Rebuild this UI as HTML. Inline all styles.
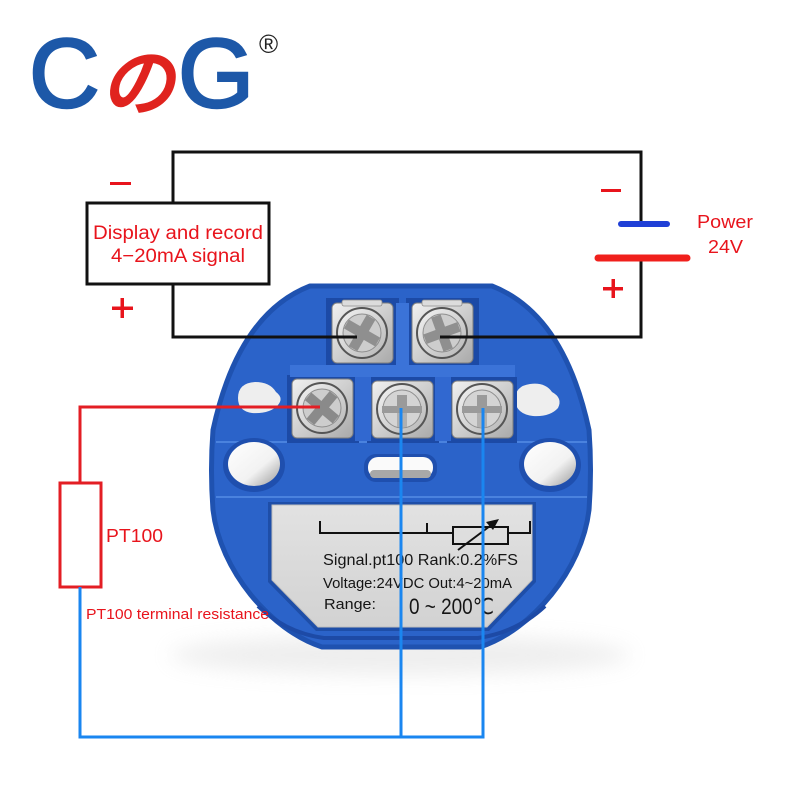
<!DOCTYPE html>
<html><head><meta charset="utf-8"><style>
html,body{margin:0;padding:0;background:#fff;}
svg{display:block;}
</style></head><body>
<svg width="800" height="800" viewBox="0 0 800 800" xmlns="http://www.w3.org/2000/svg">
<defs>
<linearGradient id="silver" x1="0" y1="0" x2="1" y2="1">
<stop offset="0" stop-color="#f0f0f0"/><stop offset="0.5" stop-color="#cfcfcf"/><stop offset="1" stop-color="#a9a9a9"/>
</linearGradient>
<linearGradient id="head" x1="0" y1="0" x2="1" y2="1">
<stop offset="0" stop-color="#f4f4f4"/><stop offset="1" stop-color="#b5b5b5"/>
</linearGradient>
<linearGradient id="plate" x1="0" y1="0" x2="0" y2="1">
<stop offset="0" stop-color="#e2e2e2"/><stop offset="1" stop-color="#d2d2d2"/>
</linearGradient>
<linearGradient id="hole" x1="0" y1="0" x2="1" y2="1">
<stop offset="0" stop-color="#ffffff"/><stop offset="0.6" stop-color="#f2f2f2"/><stop offset="1" stop-color="#9a9a9a"/>
</linearGradient>
<filter id="blur" x="-50%" y="-50%" width="200%" height="200%"><feGaussianBlur stdDeviation="10"/></filter>
</defs>

<rect width="800" height="800" fill="#fff"/>

<!-- Logo -->
<text x="29" y="107" font-family="Liberation Sans, sans-serif" font-size="98" fill="#1d58a8" stroke="#1d58a8" stroke-width="2.5">C</text>
<text x="104" y="109" font-family="Noto Sans CJK JP, sans-serif" font-size="74" fill="#e0231e" stroke="#e0231e" stroke-width="3" transform="skewX(-12) translate(20,0)">の</text>
<text x="178" y="107" font-family="Liberation Sans, sans-serif" font-size="98" fill="#1d58a8" stroke="#1d58a8" stroke-width="2.5">G</text>
<text x="259" y="53" font-family="Liberation Sans, sans-serif" font-size="26" fill="#222">®</text>

<!-- shadow -->
<ellipse cx="400" cy="655" rx="230" ry="20" fill="#c8c8c8" opacity="0.3" filter="url(#blur)"/>

<!-- Device body -->
<path d="M310,286 L492,286 Q564,314 589,430 Q592,470 589,510 C582,570 532,630 480,647 L322,647 C270,630 220,570 213,510 Q210,470 213,430 Q238,314 310,286 Z" fill="#2b63c9" stroke="#1f52b0" stroke-width="5" stroke-linejoin="round"/>
<!-- section edge lines -->
<line x1="216" y1="442" x2="587" y2="442" stroke="#4a82de" stroke-width="2"/>
<line x1="216" y1="497" x2="587" y2="497" stroke="#4a82de" stroke-width="2"/>
<path d="M258,606 C275,622 295,634 324,638 L478,638 C506,634 528,622 545,606" fill="none" stroke="#1d4aa6" stroke-width="4"/>

<!-- notches -->
<path d="M238,398 Q238,383 255,382 Q270,382 276,392 Q284,398 278,405 Q270,414 252,413 Q238,411 238,398 Z" fill="#eeeeee"/>
<path d="M515,400 Q515,386 530,384 Q545,382 552,392 Q563,398 558,408 Q550,417 533,416 Q516,414 515,400 Z" fill="#eeeeee"/>

<!-- holes -->
<ellipse cx="254" cy="465" rx="31" ry="27" fill="#1f4fae"/>
<ellipse cx="254" cy="464" rx="26" ry="22" fill="url(#hole)"/>
<ellipse cx="550" cy="465" rx="31" ry="27" fill="#1f4fae"/>
<ellipse cx="550" cy="464" rx="26" ry="22" fill="url(#hole)"/>
<!-- slot -->
<rect x="364" y="454" width="73" height="28" rx="12" fill="#1f4fae"/>
<rect x="368" y="457" width="65" height="21" rx="10" fill="#fafafa"/>
<rect x="370" y="470" width="61" height="8" rx="4" fill="#a8a8a8"/>

<!-- terminal recesses -->
<rect x="326" y="298" width="73" height="69" fill="#1c4aa6"/>
<rect x="406" y="298" width="73" height="69" fill="#1c4aa6"/>
<rect x="287" y="375" width="72" height="68" fill="#1c4aa6"/>
<rect x="367" y="377" width="72" height="66" fill="#1c4aa6"/>
<rect x="447" y="377" width="70" height="66" fill="#1c4aa6"/>
<!-- ridges -->
<rect x="290" y="365" width="225" height="12" fill="#3b73d8"/>
<rect x="396" y="303" width="13" height="62" fill="#3b73d8"/>
<rect x="355" y="377" width="16" height="64" fill="#3168d0"/>
<rect x="435" y="377" width="16" height="64" fill="#3168d0"/>

<!-- terminals -->
<g transform="translate(362,333)">
<rect x="-30" y="-30" width="61" height="60" rx="5" fill="url(#silver)" stroke="#7d7d7d"/>
<rect x="-20" y="-33" width="40" height="6" rx="2" fill="#dcdcdc" stroke="#8a8a8a" stroke-width="0.8"/>
<circle r="25" fill="url(#head)" stroke="#555" stroke-width="2"/>
<circle r="19" fill="#cdcdcd" stroke="#8e8e8e"/>
<path d="M-5,-18 L5,-18 L5,-5 L18,-5 L18,5 L5,5 L5,18 L-5,18 L-5,5 L-18,5 L-18,-5 L-5,-5 Z" fill="#8f8f8f" transform="rotate(30)"/>
</g>
<g transform="translate(442,333)">
<rect x="-30" y="-30" width="61" height="60" rx="5" fill="url(#silver)" stroke="#7d7d7d"/>
<rect x="-20" y="-33" width="40" height="6" rx="2" fill="#dcdcdc" stroke="#8a8a8a" stroke-width="0.8"/>
<circle r="25" fill="url(#head)" stroke="#555" stroke-width="2"/>
<circle r="19" fill="#cdcdcd" stroke="#8e8e8e"/>
<path d="M-5,-18 L5,-18 L5,-5 L18,-5 L18,5 L5,5 L5,18 L-5,18 L-5,5 L-18,5 L-18,-5 L-5,-5 Z" fill="#8f8f8f" transform="rotate(-20)"/>
</g>
<g transform="translate(322,408)">
<rect x="-30" y="-29" width="61" height="59" rx="5" fill="url(#silver)" stroke="#7d7d7d"/>
<circle r="25" fill="url(#head)" stroke="#555" stroke-width="2"/>
<circle r="19" fill="#cdcdcd" stroke="#8e8e8e"/>
<path d="M-5,-18 L5,-18 L5,-5 L18,-5 L18,5 L5,5 L5,18 L-5,18 L-5,5 L-18,5 L-18,-5 L-5,-5 Z" fill="#8a8a8a" transform="rotate(40)"/>
</g>
<g transform="translate(402,409)">
<rect x="-30" y="-28" width="61" height="57" rx="5" fill="url(#silver)" stroke="#7d7d7d"/>
<circle r="25" fill="url(#head)" stroke="#555" stroke-width="2"/>
<circle r="19" fill="#d4d4d4" stroke="#8e8e8e"/>
<rect x="-20" y="-3" width="40" height="7" fill="#9a9a9a"/>
<rect x="-5" y="-14" width="10" height="14" fill="#9a9a9a"/>
<rect x="-5" y="4" width="10" height="14" fill="#b0b0b0"/>
</g>
<g transform="translate(482,409)">
<rect x="-30" y="-28" width="61" height="57" rx="5" fill="url(#silver)" stroke="#7d7d7d"/>
<circle r="25" fill="url(#head)" stroke="#555" stroke-width="2"/>
<circle r="19" fill="#d4d4d4" stroke="#8e8e8e"/>
<rect x="-20" y="-3" width="40" height="7" fill="#9a9a9a"/>
<rect x="-5" y="-14" width="10" height="14" fill="#9a9a9a"/>
<rect x="-5" y="4" width="10" height="14" fill="#b0b0b0"/>
</g>

<!-- label plate -->
<path d="M268,502 L536,502 L536,582 L489,631 L316,631 L268,582 Z" fill="#1e4ea8"/>
<path d="M272,505 L532,505 L532,580 L487,627 L318,627 L272,580 Z" fill="url(#plate)" stroke="#bdbdbd" stroke-width="1"/>
<!-- plate schematic -->
<g stroke="#111" stroke-width="2" fill="none">
<path d="M320,521 L320,533 L453,533"/>
<line x1="427" y1="523" x2="427" y2="533"/>
<rect x="453" y="527" width="55" height="17"/>
<path d="M508,533 L530,533 L530,521"/>
<line x1="458" y1="550" x2="494" y2="523"/>
</g>
<path d="M499,519 L486,522 L493,530 Z" fill="#111"/>
<g font-family="Liberation Sans, sans-serif" fill="#151515">
<text x="323" y="565" font-size="16" textLength="195" lengthAdjust="spacingAndGlyphs">Signal.pt100 Rank:0.2%FS</text>
<text x="323" y="588" font-size="14.5" textLength="189" lengthAdjust="spacingAndGlyphs">Voltage:24VDC Out:4~20mA</text>
<text x="324" y="609" font-size="15" textLength="52" lengthAdjust="spacingAndGlyphs">Range:</text>
<text x="409" y="614" font-size="22" textLength="85" lengthAdjust="spacingAndGlyphs" font-family="Liberation Sans, DejaVu Sans, Noto Sans CJK SC, sans-serif">0 ~ 200℃</text>
</g>

<!-- black wiring -->
<g stroke="#111" stroke-width="3" fill="none">
<path d="M357,337 L173,337 L173,284"/>
<rect x="87" y="203" width="182" height="81" fill="#fff"/>
<path d="M173,203 L173,152 L641,152 L641,224"/>
<path d="M641,258 L641,337 L440,337"/>
</g>
<line x1="621" y1="224" x2="667" y2="224" stroke="#1f3fd6" stroke-width="6" stroke-linecap="round"/>
<line x1="598" y1="258" x2="687" y2="258" stroke="#f0201c" stroke-width="7" stroke-linecap="round"/>

<!-- red wiring -->
<g stroke="#e31e24" stroke-width="3" fill="none">
<path d="M320,407 L80,407 L80,483"/>
<rect x="60" y="483" width="41" height="104" fill="#fff"/>
</g>
<!-- blue wiring -->
<g stroke="#1a86f0" stroke-width="3" fill="none">
<path d="M80,587 L80,737 L483,737 L483,408"/>
<path d="M401,408 L401,737"/>
</g>

<!-- signs -->
<g fill="#e8141c">
<rect x="110" y="182" width="21" height="3"/>
<rect x="112" y="306.5" width="21" height="3.5"/>
<rect x="120.5" y="298" width="3.5" height="20"/>
<rect x="601" y="189" width="20" height="3"/>
<rect x="603" y="287" width="20" height="3.5"/>
<rect x="611.5" y="279" width="3.5" height="19"/>
</g>

<!-- labels -->
<g font-family="Liberation Sans, sans-serif" fill="#e8141c">
<text x="93" y="239" font-size="19" textLength="170" lengthAdjust="spacingAndGlyphs">Display and record</text>
<text x="111" y="262" font-size="19" textLength="134" lengthAdjust="spacingAndGlyphs">4−20mA signal</text>
<text x="697" y="228" font-size="18" textLength="56" lengthAdjust="spacingAndGlyphs">Power</text>
<text x="708" y="253" font-size="18" textLength="35" lengthAdjust="spacingAndGlyphs">24V</text>
<text x="106" y="542" font-size="18" textLength="57" lengthAdjust="spacingAndGlyphs">PT100</text>
<text x="86" y="619" font-size="15" textLength="183" lengthAdjust="spacingAndGlyphs">PT100 terminal resistance</text>
</g>
</svg>
</body></html>
